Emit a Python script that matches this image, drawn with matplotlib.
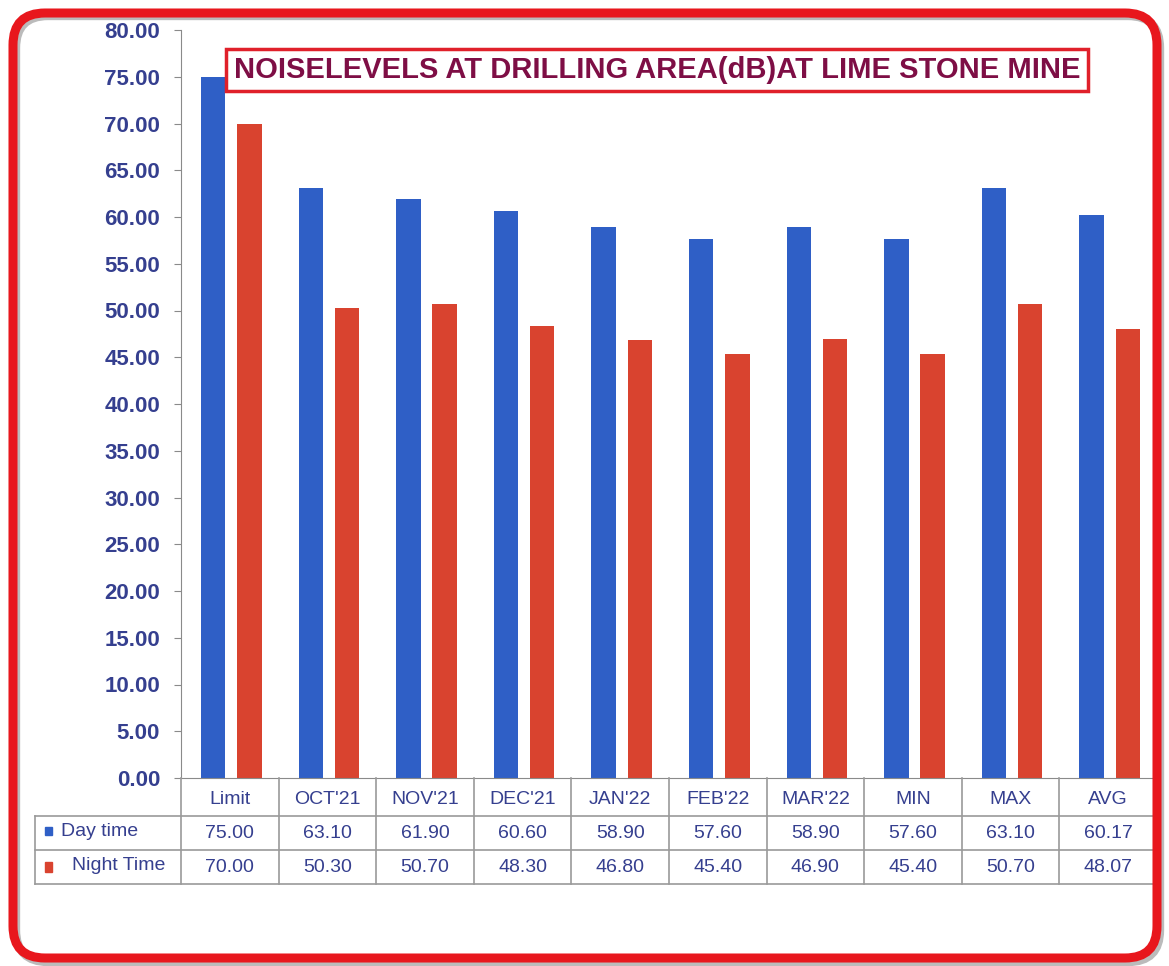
import matplotlib
matplotlib.use("Agg")
import matplotlib.pyplot as plt
import matplotlib.transforms as mtransforms
from matplotlib.patches import FancyBboxPatch, Rectangle
from matplotlib.lines import Line2D

# data
categories = ["Limit", "OCT'21", "NOV'21", "DEC'21", "JAN'22", "FEB'22", "MAR'22", "MIN", "MAX", "AVG"]
day_time = [75.00, 63.10, 61.90, 60.60, 58.90, 57.60, 58.90, 57.60, 63.10, 60.17]
night_time = [70.00, 50.30, 50.70, 48.30, 46.80, 45.40, 46.90, 45.40, 50.70, 48.07]
series_names = ["Day time", "Night Time"]
y_ticks = [0, 5, 10, 15, 20, 25, 30, 35, 40, 45, 50, 55, 60, 65, 70, 75, 80]
title = "NOISELEVELS AT DRILLING AREA(dB)AT LIME STONE MINE"

W, H = 1169, 966
blue = "#2F5FC6"
red = "#D9432F"
txt_blue = "#353F8F"
grid_gray = "#8A8A8A"

plt.rcParams['font.family'] = ['Liberation Sans', 'DejaVu Sans']

fig = plt.figure(figsize=(W / 100, H / 100), dpi=100)
fig.patch.set_facecolor("white")

def fx(px):
    return px / W

def fy(py):
    return 1 - py / H

# plot area
left, right, top, bottom = 181, 1157, 30, 778
ax = fig.add_axes([fx(left), fy(bottom), fx(right - left), (bottom - top) / H])
n = len(categories)
xs = [i + 0.5 for i in range(n)]
ax.bar([x - 0.17 for x in xs], day_time, width=0.25, color=blue, zorder=2)
ax.bar([x + 0.2 for x in xs], night_time, width=0.25, color=red, zorder=2)
ax.set_xlim(0, n)
ax.set_ylim(0, 80)
ax.set_yticks(y_ticks)
ax.set_yticklabels([f"{v:.2f}" for v in y_ticks], fontsize=16, fontweight="bold", color=txt_blue)
ax.tick_params(axis="y", length=5, color=grid_gray, pad=10)
ax.set_xticks([])
for s in ["top", "right"]:
    ax.spines[s].set_visible(False)
ax.spines["left"].set_color(grid_gray)
ax.spines["bottom"].set_color(grid_gray)
ax.set_facecolor("none")

# data table below the plot
tr = mtransforms.blended_transform_factory(ax.transData, fig.transFigure)
row_edges = [778, 816, 850, 884]
lab_left = 35
lc = "#9A9A9A"
for i in range(n + 1):
    fig.add_artist(Line2D([i, i], [fy(row_edges[0]), fy(row_edges[-1])], transform=tr, color=lc, lw=1.2))
for r in row_edges[1:]:
    fig.add_artist(Line2D([fx(lab_left), fx(right)], [fy(r), fy(r)], transform=fig.transFigure, color=lc, lw=1.2))
fig.add_artist(Line2D([fx(lab_left), fx(lab_left)], [fy(row_edges[1]), fy(row_edges[-1])],
                      transform=fig.transFigure, color=lc, lw=1.2))

for i, cat in enumerate(categories):
    fig.text(xs[i], fy(799), cat, transform=tr, ha="center", va="center", fontsize=14, color=txt_blue)
    fig.text(xs[i], fy(834), f"{day_time[i]:.2f}", transform=tr,
             ha="center", va="center", fontsize=14, color=txt_blue)
    fig.text(xs[i], fy(868), f"{night_time[i]:.2f}", transform=tr,
             ha="center", va="center", fontsize=14, color=txt_blue)

# row labels with legend keys
fig.add_artist(Rectangle((fx(45), fy(835)), fx(7), 8 / H, transform=fig.transFigure, color=blue))
fig.add_artist(Rectangle((fx(45), fy(872)), fx(7), 10 / H, transform=fig.transFigure, color=red))
fig.text(fx(61), fy(831), series_names[0], ha="left", va="center", fontsize=14, color=txt_blue)
fig.text(fx(72), fy(866), series_names[1], ha="left", va="center", fontsize=14, color=txt_blue)

# title in boxed frame
fig.text(fx(657), fy(70), title, ha="center", va="center", fontsize=21, fontweight="bold",
         color="#7E0E45",
         bbox=dict(boxstyle="square,pad=0.25", fc="white", ec="#E0202A", lw=2.5))

# outer rounded border (inches via dpi_scale_trans)
shadow = FancyBboxPatch((16 / 100, (H - 962) / 100), (1160 - 16) / 100, (962 - 16) / 100,
                        boxstyle="round,pad=0,rounding_size=0.32", transform=fig.dpi_scale_trans,
                        fc="none", ec="#BBBBBB", lw=6, zorder=0)
fig.add_artist(shadow)
border = FancyBboxPatch((13 / 100, (H - 958) / 100), (1157 - 13) / 100, (958 - 13) / 100,
                        boxstyle="round,pad=0,rounding_size=0.32", transform=fig.dpi_scale_trans,
                        fc="none", ec="#E8171D", lw=6.5, zorder=5)
fig.add_artist(border)

fig.savefig("out.png", dpi=100)
